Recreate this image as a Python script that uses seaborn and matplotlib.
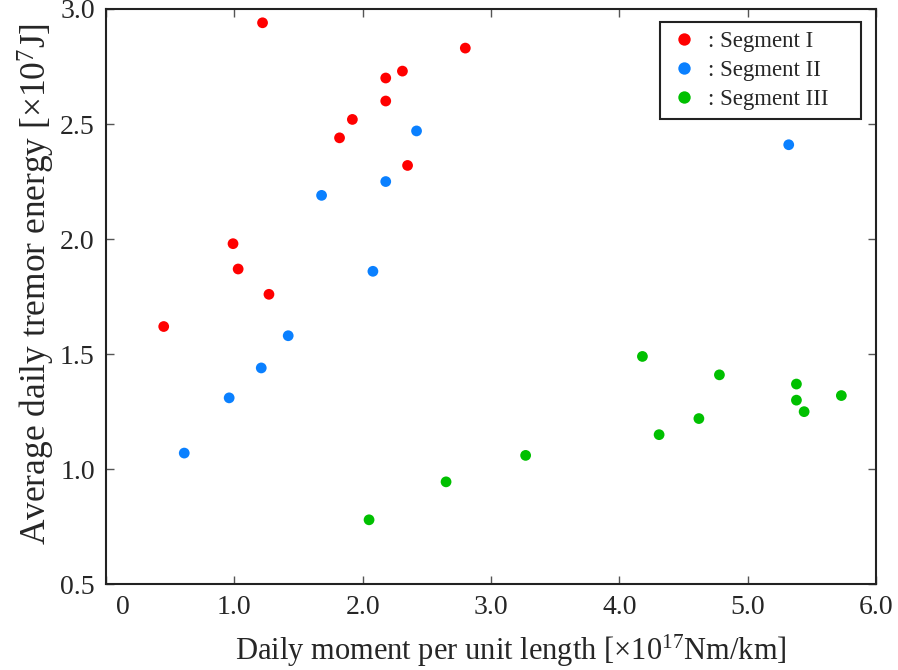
# -*- coding: utf-8 -*-
#%% imports
import matplotlib as mpl
mpl.use('Agg')
import matplotlib.pyplot as plt
import matplotlib.transforms as mtransforms
import numpy as np
import pandas as pd
import seaborn as sns

sns.set_style('ticks')
plt.rcParams['font.family'] = ['Liberation Serif', 'DejaVu Serif']
plt.rcParams['mathtext.fontset'] = 'custom'
plt.rcParams['mathtext.rm'] = 'Liberation Serif'
plt.rcParams['mathtext.default'] = 'regular'

#%% data
seg1_moment = [1.22, 2.80, 2.31, 2.18, 2.18, 1.92, 1.82, 2.35, 0.99, 1.03, 1.27, 0.45]
seg1_energy = [2.94, 2.83, 2.73, 2.70, 2.60, 2.52, 2.44, 2.32, 1.98, 1.87, 1.76, 1.62]

seg2_moment = [2.42, 2.18, 1.68, 2.08, 1.42, 1.21, 0.96, 0.61, 5.32]
seg2_energy = [2.47, 2.25, 2.19, 1.86, 1.58, 1.44, 1.31, 1.07, 2.41]

seg3_moment = [4.18, 4.78, 5.38, 5.38, 5.44, 5.73, 4.62, 4.31, 3.27, 2.65, 2.05]
seg3_energy = [1.49, 1.41, 1.37, 1.30, 1.25, 1.32, 1.22, 1.15, 1.06, 0.945, 0.78]

segments = ['Segment I', 'Segment II', 'Segment III']
colors = {'Segment I': '#ff0000', 'Segment II': '#0a80ff', 'Segment III': '#00c000'}

xticks = [0, 1, 2, 3, 4, 5, 6]
xtick_labels = ['0', '1.0', '2.0', '3.0', '4.0', '5.0', '6.0']
yticks = [0.5, 1.0, 1.5, 2.0, 2.5, 3.0]

df = pd.concat([
    pd.DataFrame({'moment': seg1_moment, 'energy': seg1_energy, 'segment': segments[0]}),
    pd.DataFrame({'moment': seg2_moment, 'energy': seg2_energy, 'segment': segments[1]}),
    pd.DataFrame({'moment': seg3_moment, 'energy': seg3_energy, 'segment': segments[2]}),
], ignore_index=True)

#%% plot
fig = plt.figure(figsize=(8.98, 6.70), dpi=100)
ax = fig.add_axes([0.118, 0.128, 0.8575, 0.8586])

sns.scatterplot(data=df, x='moment', y='energy', hue='segment',
                hue_order=segments, palette=colors, s=60,
                edgecolor='none', ax=ax)

ax.set_xlim(0, 6)
ax.set_ylim(0.5, 3.0)
ax.set_xticks(xticks)
ax.set_xticklabels(xtick_labels)
ax.set_yticks(yticks)
ax.set_yticklabels(['%.1f' % t for t in yticks])
ax.tick_params(direction='in', length=6, width=1, color='#555555',
               top=True, right=True, labelsize=20, pad=8)
for sp in ax.spines.values():
    sp.set_linewidth(1.5)
    sp.set_color('#222222')

# the "0" label sits a bit right of its tick in the original
lab0 = ax.get_xticklabels()[0]
lab0.set_transform(lab0.get_transform() +
                   mtransforms.ScaledTranslation(17 / 100, 0, fig.dpi_scale_trans))

ax.set_xlabel(r'Daily moment per unit length [×10$^{17}$Nm/km]', fontsize=22)
ax.xaxis.set_label_coords(0.526, -0.085)
ax.set_ylabel(r'Average daily tremor energy [×10$^{7}$J]', fontsize=25.5)
ax.yaxis.set_label_coords(-0.064, 0.522)

# legend: labels padded on the right like the original box
handles, labels = ax.get_legend_handles_labels()
leg = ax.legend(handles, [': ' + l + '\u00a0' * 4 for l in labels], loc='upper right',
                fontsize=16.5, frameon=True, fancybox=False, framealpha=1,
                edgecolor='#222222', handlelength=1.3, handletextpad=0.4,
                borderpad=0.4, labelspacing=0.33, markerscale=1.15,
                borderaxespad=0, bbox_to_anchor=(0.9805, 0.977))
leg.get_frame().set_linewidth(1.5)

fig.savefig('out.png', dpi=100)
